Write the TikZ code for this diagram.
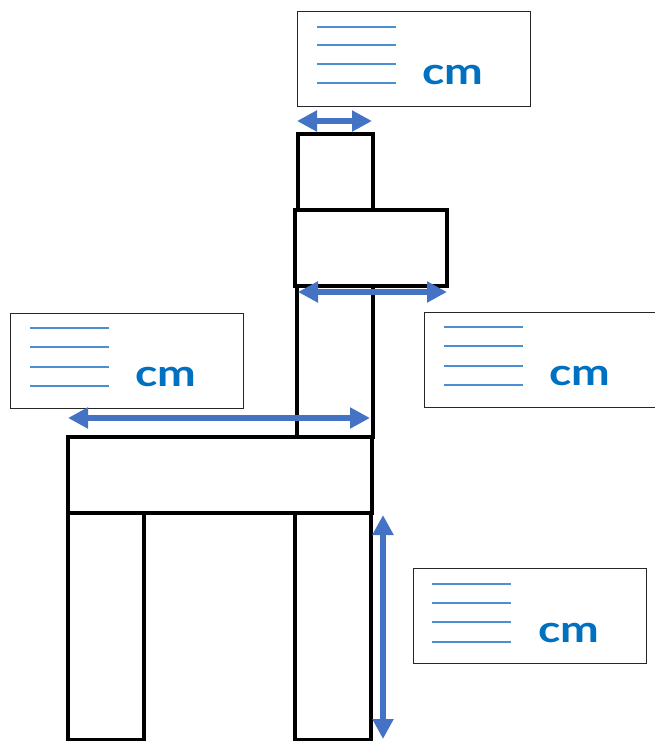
\documentclass[tikz,border=0pt]{standalone}
\usepackage{fontspec}
\usepackage{graphicx}
\usetikzlibrary{arrows.meta}
\newfontfamily\cmfont{Lato}
\definecolor{arrowblue}{HTML}{4472C4}
\definecolor{lineblue}{HTML}{4A90D0}
\definecolor{cmblue}{HTML}{0070C0}

\begin{document}
\begin{tikzpicture}[x=1pt,y=-1pt]
        \tikzstyle{every node}+=[inner sep=0pt, outer sep=0pt]
        \tikzstyle{block}=[draw=black, line width=3.5pt, rectangle]
        \tikzstyle{infobox}=[draw=black!85, line width=0.8pt, rectangle, minimum width=233pt, minimum height=95pt]
        \tikzstyle{rule}=[lineblue, line width=1.1pt]
        \tikzstyle{unit}=[text=cmblue, font=\cmfont\bfseries\fontsize{37}{37}\selectfont]
        \tikzstyle{dim}=[arrowblue, line width=5.5pt, {Triangle[length=20pt,width=20pt]}-{Triangle[length=20pt,width=20pt]}]
        \useasboundingbox (0,0) rectangle (655,741);
        % chair
        \node [block, minimum width=75pt, minimum height=76pt] (cap) at (335.5,172) {};
        \node [block, minimum width=76pt, minimum height=151pt] (neck) at (335,361.5) {};
        \node [block, fill=white, minimum width=152pt, minimum height=76pt] (head) at (371,248) {};
        \node [block, minimum width=304pt, minimum height=76pt] (seat) at (220,475) {};
        \node [block, minimum width=76pt, minimum height=227pt] (legl) at (106,626.5) {};
        \node [block, minimum width=76pt, minimum height=227pt] (legr) at (333,626.5) {};
        % label boxes
        \node [infobox] (topinfo) at (413.5,58.5) {};
        \draw [rule] (317,27) -- (396,27);
        \draw [rule] (317,45) -- (396,45);
        \draw [rule] (317,64) -- (396,64);
        \draw [rule] (317,83) -- (396,83);
        \node [unit] (topcm) at (453,75) {\scalebox{1.25}[1]{cm}};
        \node [infobox] (leftinfo) at (126.5,360.5) {};
        \draw [rule] (30,328) -- (109,328);
        \draw [rule] (30,347) -- (109,347);
        \draw [rule] (30,367) -- (109,367);
        \draw [rule] (30,386) -- (109,386);
        \node [unit] (leftcm) at (166,377) {\scalebox{1.25}[1]{cm}};
        \node [infobox] (rightinfo) at (540.5,359.5) {};
        \draw [rule] (444,327) -- (523,327);
        \draw [rule] (444,346) -- (523,346);
        \draw [rule] (444,366) -- (523,366);
        \draw [rule] (444,385) -- (523,385);
        \node [unit] (rightcm) at (580,376) {\scalebox{1.25}[1]{cm}};
        \node [infobox] (lowinfo) at (529.5,615.5) {};
        \draw [rule] (432,584) -- (511,584);
        \draw [rule] (432,603) -- (511,603);
        \draw [rule] (432,622) -- (511,622);
        \draw [rule] (432,642) -- (511,642);
        \node [unit] (lowcm) at (569,633) {\scalebox{1.25}[1]{cm}};
        % dimension arrows
        \coordinate (capl) at (297,121);
        \coordinate (capr) at (372,121);
        \coordinate (headl) at (298,292);
        \coordinate (headr) at (447,292);
        \coordinate (seatl) at (68,418);
        \coordinate (seatr) at (370,418);
        \coordinate (legtop) at (383,515);
        \coordinate (legbot) at (383,739);
        \draw [dim] (capl) -- (capr);
        \draw [dim] (headl) -- (headr);
        \draw [dim] (seatl) -- (seatr);
        \draw [dim] (legtop) -- (legbot);
        \end{tikzpicture}
\end{document}
